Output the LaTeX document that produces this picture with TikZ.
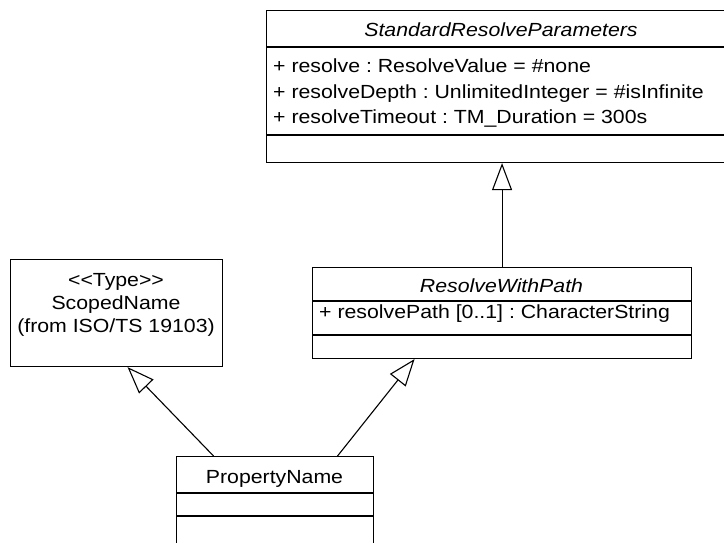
\documentclass[tikz,border=0pt]{standalone}
\usepackage{fontspec}
\setmainfont{Liberation Sans}[Ligatures=TeXOff,FakeStretch=1.12]
\usetikzlibrary{arrows.meta,calc}
\frenchspacing
\begin{document}
\begin{tikzpicture}[x=1pt,y=-1pt,
  box/.style={draw,line width=1.1pt,anchor=north west,inner sep=0pt,fill=white},
  divider/.style={draw,line width=1.1pt},
  txt/.style={font=\fontsize{19}{22}\selectfont,inner sep=0pt,anchor=base},
  ctxt/.style={txt,font=\fontsize{19}{22}\selectfont\itshape},
  attr/.style={txt,anchor=base west},
  gen/.style={draw,line width=1.1pt,-{Triangle[open,length=27pt,width=20pt,fill=white]}}]
\useasboundingbox (0,0) rectangle (724,543);
\clip (0,0) rectangle (724,543);
% StandardResolveParameters
\node[box,minimum width=470pt,minimum height=152pt] (srp) at (266,10) {};
\draw[divider] (266,47) -- (736,47);
\draw[divider] (266,135) -- (736,135);
\node[ctxt] (srpname) at (501,37) {StandardResolveParameters};
\node[attr] (srpa1) at (273,73) {+ resolve : ResolveValue = \#none};
\node[attr] (srpa2) at (273,99) {+ resolveDepth : UnlimitedInteger = \#isInfinite};
\node[attr] (srpa3) at (273,124) {+ resolveTimeout : TM\_Duration = 300s};
% ResolveWithPath
\node[box,minimum width=379pt,minimum height=91pt] (rwp) at (312,267) {};
\draw[divider] (312,301) -- (691,301);
\draw[divider] (312,335) -- (691,335);
\node[ctxt] (rwpname) at (501.5,292) {ResolveWithPath};
\node[attr] (rwpa1) at (319,318) {+ resolvePath [0..1] : CharacterString};
% ScopedName
\node[box,minimum width=212pt,minimum height=107pt] (sn) at (10,259) {};
\node[txt] (sn1) at (116,286) {\textless\textless Type\textgreater\textgreater};
\node[txt] (sn2) at (116,309) {ScopedName};
\node[txt] (sn3) at (116,332) {(from ISO/TS 19103)};
% PropertyName
\node[box,minimum width=197pt,minimum height=110pt] (pn) at (176,456) {};
\draw[divider] (176,493) -- (373,493);
\draw[divider] (176,516) -- (373,516);
\node[txt] (pnname) at (274.5,483) {PropertyName};
% generalizations
\draw[gen] (rwp.north) -- (rwp.north |- srp.south);
\draw[gen] ($(pn.north)+(-61.5,0)$) -- ($(sn.south)+(11,0)$);
\draw[gen] ($(pn.north)+(62.5,0)$) -- ($(rwp.south)+(-87.5,0)$);
\end{tikzpicture}
\end{document}
